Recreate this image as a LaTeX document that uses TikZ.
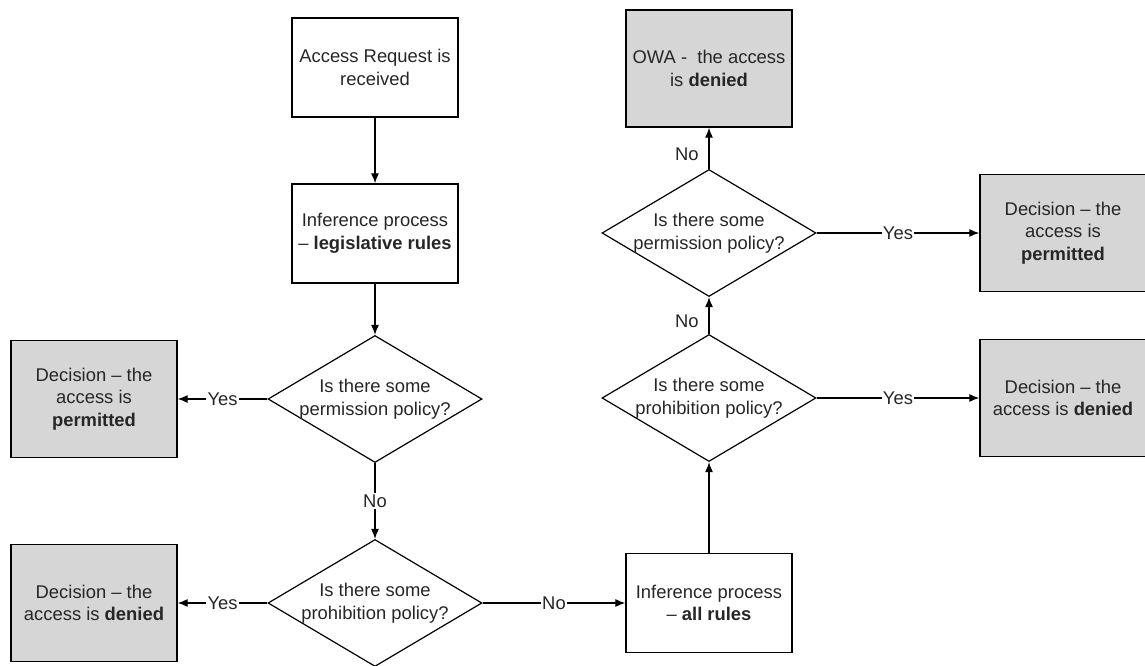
\documentclass[tikz,border=0pt]{standalone}
\usepackage{fontspec}
\setmainfont{Liberation Sans}
\usetikzlibrary{shapes.geometric, arrows.meta}

\tikzset{
	box/.style = {draw, line width = 1pt, minimum width = 124.5pt, minimum height = 74.25pt, align = center, inner sep = 2pt},
	decision/.style = {box, fill = black!16, minimum height = 87.75pt},
	question/.style = {draw, diamond, line width = 0.9pt, minimum width = 160.5pt, minimum height = 95.25pt, inner sep = -20pt, align = center},
	answer/.style = {fill = white, inner sep = 1pt}
}

\begin{document}
\begin{tikzpicture}[> = {Latex[length = 7.5pt, width = 6pt]}, x = 0.75pt, y = -0.75pt, line width = 0.9pt, every node/.style = {font = \fontsize{13.8}{17}\selectfont, text = black!85}]

	\useasboundingbox (0, 0) rectangle (1145, 666);

	% Left column

	\node [box] (request) at (375, 67.5) {Access Request is\\received};
	\node [box] (legislative) at (375, 233.5) {Inference process\\– \textbf{legislative rules}};
	\node [question] (permitfirst) at (375, 399) {Is there some\\permission policy?};
	\node [question] (prohibitfirst) at (375, 603) {Is there some\\prohibition policy?};

	\node [decision] (permittedleft) at (94, 399) {Decision – the\\access is\\\textbf{permitted}};
	\node [decision] (deniedleft) at (94, 603) {Decision – the\\access is \textbf{denied}};

	% Right column

	\node [box] (allrules) at (709, 603) {Inference process\\– \textbf{all rules}};
	\node [question] (prohibitsecond) at (709, 398) {Is there some\\prohibition policy?};
	\node [question] (permitsecond) at (709, 233) {Is there some\\permission policy?};
	\node [decision] (owa) at (709, 68.5) {OWA - \ the access\\is \textbf{denied}};

	\node [decision] (deniedright) at (1063, 398) {Decision – the\\access is \textbf{denied}};
	\node [decision] (permittedright) at (1063, 233) {Decision – the\\access is\\\textbf{permitted}};

	% Connectors

	\draw [->] (request) -- (legislative);
	\draw [->] (legislative) -- (permitfirst);
	\draw [->] (permitfirst) -- node [answer] {Yes} (permittedleft);
	\draw [->] (permitfirst) -- node [answer] {No} (prohibitfirst);
	\draw [->] (prohibitfirst) -- node [answer] {Yes} (deniedleft);
	\draw [->] (prohibitfirst) -- node [answer] {No} (allrules);

	\draw [->] (allrules) -- (prohibitsecond);
	\draw [->] (prohibitsecond) -- node [answer] {Yes} (deniedright);
	\draw [->] (prohibitsecond) -- node [left, pos = 0.35, xshift = -4pt] {No} (permitsecond);
	\draw [->] (permitsecond) -- node [answer] {Yes} (permittedright);
	\draw [->] (permitsecond) -- node [left, pos = 0.35, xshift = -4pt] {No} (owa);

\end{tikzpicture}
\end{document}
